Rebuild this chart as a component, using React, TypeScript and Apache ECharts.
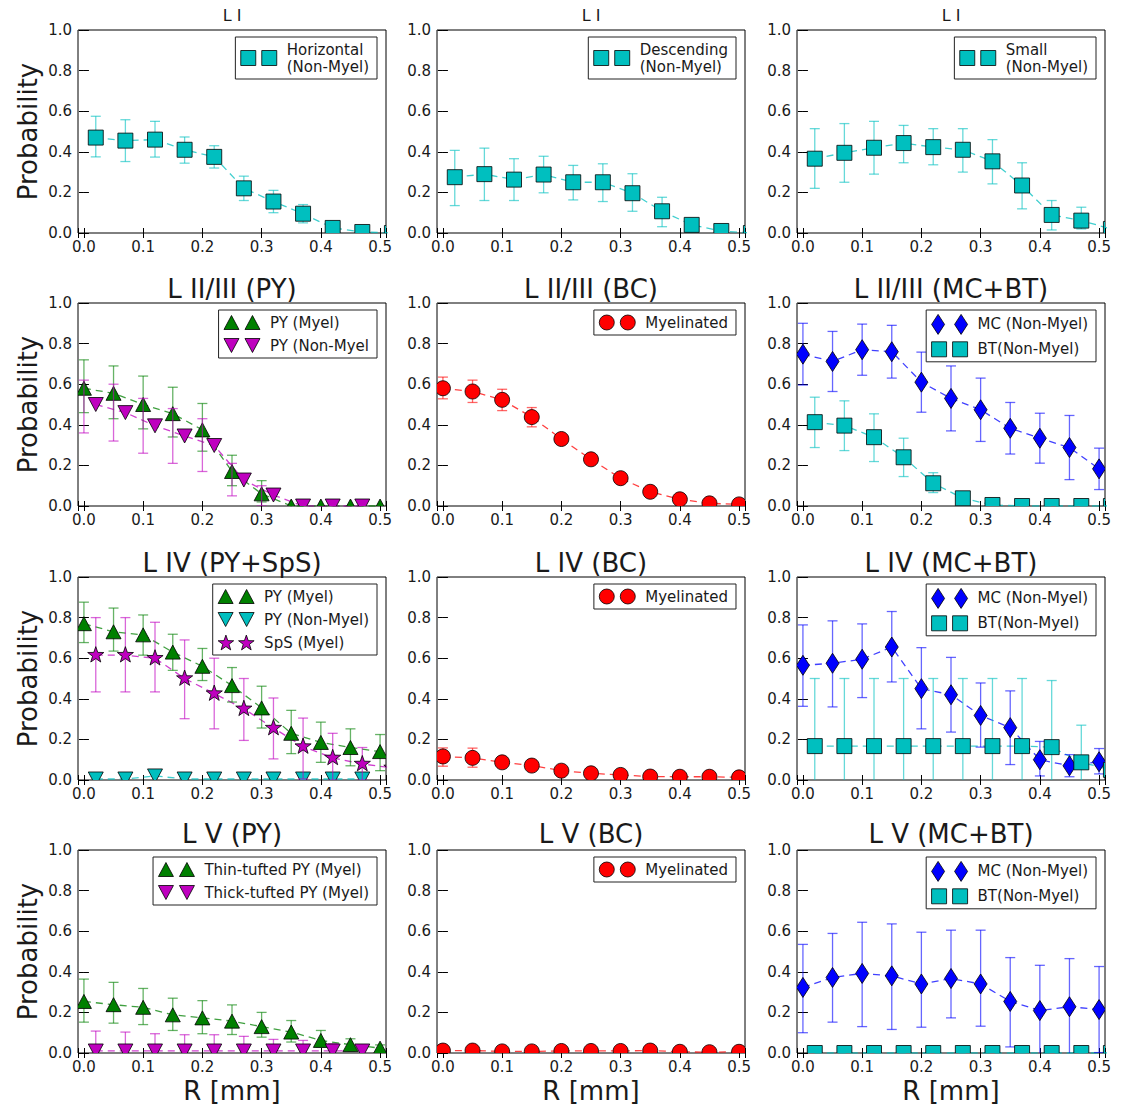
import React, { useEffect, useRef } from 'react';
import * as echarts from 'echarts';

// ---------------- data ----------------
const X_A = [0, 0.05, 0.1, 0.15, 0.2, 0.25, 0.3, 0.35, 0.4, 0.45, 0.5];
const X_B = [0.02, 0.07, 0.12, 0.17, 0.22, 0.27, 0.32, 0.37, 0.42, 0.47];
const X_B_EDGE = [0.02, 0.07, 0.12, 0.17, 0.22, 0.27, 0.32, 0.37, 0.42, 0.47, 0.52];
const X_TICKS = [0, 0.1, 0.2, 0.3, 0.4, 0.5];

const PANEL_TITLES = [
  'L I', 'L I', 'L I',
  'L II/III (PY)', 'L II/III (BC)', 'L II/III (MC+BT)',
  'L IV (PY+SpS)', 'L IV (BC)', 'L IV (MC+BT)',
  'L V (PY)', 'L V (BC)', 'L V (MC+BT)',
];

// Row 1 - L I
const LI_HOR_Y = [0.47, 0.455, 0.46, 0.41, 0.375, 0.22, 0.155, 0.095, 0.025, 0.005, 0.0];
const LI_HOR_LO = [0.375, 0.352, 0.374, 0.344, 0.32, 0.16, 0.1, 0.05, 0.0, 0.0, 0.0];
const LI_HOR_HI = [0.575, 0.558, 0.55, 0.473, 0.43, 0.28, 0.21, 0.14, 0.05, 0.01, 0.0];

const LI_DESC_Y = [0.275, 0.29, 0.263, 0.288, 0.25, 0.25, 0.196, 0.107, 0.04, 0.01, 0.0];
const LI_DESC_LO = [0.135, 0.16, 0.16, 0.198, 0.163, 0.155, 0.107, 0.031, 0.0, 0.0, 0.0];
const LI_DESC_HI = [0.407, 0.418, 0.366, 0.378, 0.333, 0.341, 0.292, 0.176, 0.07, 0.02, 0.0];

const LI_SMALL_Y = [0.366, 0.395, 0.42, 0.443, 0.423, 0.41, 0.353, 0.234, 0.089, 0.061, 0.02];
const LI_SMALL_LO = [0.22, 0.25, 0.29, 0.346, 0.336, 0.3, 0.242, 0.119, 0.015, 0.02, 0.0];
const LI_SMALL_HI = [0.514, 0.539, 0.55, 0.53, 0.514, 0.514, 0.46, 0.346, 0.16, 0.127, 0.04];

// Row 2 - L II/III
const L23_PY_MYEL_Y = [0.58, 0.555, 0.5, 0.455, 0.375, 0.17, 0.06, 0.0, 0.0, 0.0, 0.0];
const L23_PY_MYEL_LO = [0.46, 0.43, 0.38, 0.34, 0.27, 0.1, 0.02, 0, 0, 0, 0];
const L23_PY_MYEL_HI = [0.72, 0.69, 0.64, 0.585, 0.505, 0.25, 0.125, 0, 0, 0, 0];

const L23_PY_NON_Y = [0.5, 0.46, 0.395, 0.345, 0.298, 0.128, 0.054, 0.0, 0.0, 0.0];
const L23_PY_NON_ERR_X = [0, 0.05, 0.1, 0.15, 0.2, 0.25, 0.3, 0.35, 0.4, 0.45];
const L23_PY_NON_LO = [0.36, 0.32, 0.26, 0.21, 0.17, 0.05, 0.0, 0, 0, 0];
const L23_PY_NON_HI = [0.62, 0.6, 0.53, 0.48, 0.43, 0.21, 0.1, 0, 0, 0];

const L23_BC_Y = [0.58, 0.564, 0.523, 0.438, 0.33, 0.23, 0.137, 0.07, 0.033, 0.013, 0.008];
const L23_BC_LO = [0.528, 0.51, 0.47, 0.39, 0.31, 0.215, 0.125, 0.06, 0.025, 0.005, 0.0];
const L23_BC_HI = [0.635, 0.62, 0.575, 0.485, 0.35, 0.245, 0.15, 0.08, 0.04, 0.02, 0.015];

const L23_MC_Y = [0.748, 0.712, 0.77, 0.76, 0.61, 0.53, 0.474, 0.383, 0.334, 0.288, 0.183];
const L23_MC_LO = [0.596, 0.564, 0.644, 0.63, 0.462, 0.37, 0.318, 0.256, 0.211, 0.13, 0.081];
const L23_MC_HI = [0.9, 0.86, 0.896, 0.89, 0.758, 0.69, 0.63, 0.51, 0.457, 0.446, 0.285];

const L23_BT_Y = [0.413, 0.396, 0.339, 0.24, 0.112, 0.038, 0.005, 0.0, 0.0, 0.0, 0.0];
const L23_BT_LO = [0.288, 0.273, 0.219, 0.145, 0.066, 0.015, 0.0, 0, 0, 0, 0];
const L23_BT_HI = [0.536, 0.518, 0.454, 0.334, 0.164, 0.06, 0.01, 0, 0, 0, 0];

// Row 3 - L IV
const L4_PY_MYEL_Y = [0.77, 0.73, 0.715, 0.63, 0.56, 0.465, 0.355, 0.23, 0.185, 0.16, 0.14];
const L4_PY_MYEL_LO = [0.677, 0.635, 0.615, 0.54, 0.49, 0.384, 0.256, 0.13, 0.087, 0.07, 0.046];
const L4_PY_MYEL_HI = [0.876, 0.847, 0.813, 0.718, 0.648, 0.554, 0.462, 0.343, 0.285, 0.252, 0.224];

const L4_PY_NON_Y = [0.005, 0.005, 0.02, 0.005, 0.005, 0.005, 0.005, 0.005, 0.005, 0.005];

const L4_SPS_Y = [0.615, 0.615, 0.6, 0.5, 0.426, 0.351, 0.256, 0.165, 0.109, 0.079, 0.06];
const L4_SPS_LO = [0.434, 0.434, 0.434, 0.302, 0.252, 0.195, 0.104, 0.005, 0.0, 0.0, 0.0];
const L4_SPS_HI = [0.8, 0.8, 0.777, 0.69, 0.6, 0.5, 0.404, 0.305, 0.23, 0.16, 0.1];

const L4_BC_Y = [0.116, 0.109, 0.087, 0.071, 0.046, 0.033, 0.025, 0.017, 0.016, 0.016, 0.013];
const L4_BC_LO = [0.068, 0.063, 0.065, 0.055, 0.035, 0.025, 0.018, 0.01, 0.01, 0.01, 0.008];
const L4_BC_HI = [0.158, 0.157, 0.11, 0.088, 0.058, 0.042, 0.032, 0.024, 0.022, 0.022, 0.018];

const L4_MC_Y = [0.565, 0.575, 0.595, 0.655, 0.45, 0.42, 0.318, 0.258, 0.1, 0.07, 0.09];
const L4_MC_LO = [0.363, 0.36, 0.406, 0.483, 0.252, 0.236, 0.162, 0.076, 0.02, 0.016, 0.03];
const L4_MC_HI = [0.764, 0.784, 0.769, 0.83, 0.652, 0.604, 0.478, 0.439, 0.19, 0.125, 0.155];

const L4_BT_Y = [0.167, 0.167, 0.167, 0.167, 0.167, 0.167, 0.167, 0.167, 0.162, 0.087, 0.05];
const L4_BT_LO = [-0.166, -0.166, -0.166, -0.166, -0.166, -0.166, -0.166, -0.166, -0.166, -0.096, 0.0];
const L4_BT_HI = [0.5, 0.5, 0.5, 0.5, 0.5, 0.5, 0.5, 0.5, 0.49, 0.27, 0.1];

// Row 4 - L V
const L5_THIN_Y = [0.254, 0.238, 0.225, 0.188, 0.173, 0.157, 0.13, 0.103, 0.062, 0.041, 0.024];
const L5_THIN_LO = [0.152, 0.147, 0.14, 0.111, 0.095, 0.091, 0.078, 0.054, 0.03, 0.016, 0.005];
const L5_THIN_HI = [0.364, 0.348, 0.318, 0.27, 0.258, 0.237, 0.2, 0.16, 0.111, 0.07, 0.04];

const L5_THICK_Y = [0.01, 0.01, 0.01, 0.01, 0.01, 0.01, 0.01, 0.01, 0.01, 0.01];
const L5_THICK_LO = [-0.088, -0.083, -0.075, -0.07, -0.07, -0.062, -0.047, -0.042, -0.026, -0.014];
const L5_THICK_HI = [0.108, 0.103, 0.095, 0.09, 0.09, 0.082, 0.067, 0.062, 0.046, 0.034];

const L5_BC_Y = [0.012, 0.012, 0.008, 0.008, 0.01, 0.01, 0.01, 0.012, 0.006, 0.004, 0.006];
const L5_BC_LO = [0.006, 0.006, 0.002, 0.002, 0.004, 0.004, 0.004, 0.006, 0.0, 0.0, 0.0];
const L5_BC_HI = [0.018, 0.018, 0.014, 0.014, 0.016, 0.016, 0.016, 0.018, 0.012, 0.01, 0.012];

const L5_MC_Y = [0.323, 0.372, 0.392, 0.38, 0.34, 0.367, 0.34, 0.254, 0.209, 0.228, 0.214];
const L5_MC_LO = [0.1, 0.152, 0.13, 0.116, 0.127, 0.173, 0.132, 0.03, -0.014, -0.009, 0.002];
const L5_MC_HI = [0.535, 0.589, 0.644, 0.636, 0.595, 0.605, 0.605, 0.47, 0.432, 0.465, 0.426];

const L5_BT_Y = [0, 0, 0, 0, 0, 0, 0, 0, 0, 0, 0];

// ---------------- styles ----------------
const CYAN = '#00bfbf';
const GREEN = '#008000';
const MAGENTA = '#bf00bf';
const RED = '#ff0000';
const BLUE = '#0000ff';
const FONT = "'DejaVu Sans', 'Liberation Sans', sans-serif";
const TEXT = '#1a1a1a';

const W = 1122;
const H = 1107;
const COL_LEFT = [78, 437, 797];
const ROW_TOP = [30, 303, 577, 850];
const PW = 308;
const PH = 203;
const TITLE_TOP = [7, 276, 550, 821];
const TITLE_SIZE = [16, 26, 26, 26];

interface SeriesDef {
  name: string;
  marker: string;
  color: string;
  x: number[];
  y: number[];
  lo: number[];
  hi: number[];
  ex?: number[];
}

const PANELS: SeriesDef[][] = [
  [{ name: 'Horizontal\n(Non-Myel)', marker: 'square', color: CYAN, x: X_B_EDGE, y: LI_HOR_Y, lo: LI_HOR_LO, hi: LI_HOR_HI }],
  [{ name: 'Descending\n(Non-Myel)', marker: 'square', color: CYAN, x: X_B_EDGE, y: LI_DESC_Y, lo: LI_DESC_LO, hi: LI_DESC_HI }],
  [{ name: 'Small\n(Non-Myel)', marker: 'square', color: CYAN, x: X_B_EDGE, y: LI_SMALL_Y, lo: LI_SMALL_LO, hi: LI_SMALL_HI }],
  [
    { name: 'PY (Myel)', marker: 'up', color: GREEN, x: X_A, y: L23_PY_MYEL_Y, lo: L23_PY_MYEL_LO, hi: L23_PY_MYEL_HI },
    { name: 'PY (Non-Myel', marker: 'down', color: MAGENTA, x: X_B, y: L23_PY_NON_Y, lo: L23_PY_NON_LO, hi: L23_PY_NON_HI, ex: L23_PY_NON_ERR_X },
  ],
  [{ name: 'Myelinated', marker: 'circle', color: RED, x: X_A, y: L23_BC_Y, lo: L23_BC_LO, hi: L23_BC_HI }],
  [
    { name: 'MC (Non-Myel)', marker: 'diamond', color: BLUE, x: X_A, y: L23_MC_Y, lo: L23_MC_LO, hi: L23_MC_HI },
    { name: 'BT(Non-Myel)', marker: 'square', color: CYAN, x: X_B_EDGE, y: L23_BT_Y, lo: L23_BT_LO, hi: L23_BT_HI },
  ],
  [
    { name: 'PY (Myel)', marker: 'up', color: GREEN, x: X_A, y: L4_PY_MYEL_Y, lo: L4_PY_MYEL_LO, hi: L4_PY_MYEL_HI },
    { name: 'PY (Non-Myel)', marker: 'down', color: CYAN, x: X_B, y: L4_PY_NON_Y, lo: L4_PY_NON_Y, hi: L4_PY_NON_Y },
    { name: 'SpS (Myel)', marker: 'star', color: MAGENTA, x: X_B_EDGE, y: L4_SPS_Y, lo: L4_SPS_LO, hi: L4_SPS_HI },
  ],
  [{ name: 'Myelinated', marker: 'circle', color: RED, x: X_A, y: L4_BC_Y, lo: L4_BC_LO, hi: L4_BC_HI }],
  [
    { name: 'MC (Non-Myel)', marker: 'diamond', color: BLUE, x: X_A, y: L4_MC_Y, lo: L4_MC_LO, hi: L4_MC_HI },
    { name: 'BT(Non-Myel)', marker: 'square', color: CYAN, x: X_B_EDGE, y: L4_BT_Y, lo: L4_BT_LO, hi: L4_BT_HI },
  ],
  [
    { name: 'Thin-tufted PY (Myel)', marker: 'up', color: GREEN, x: X_A, y: L5_THIN_Y, lo: L5_THIN_LO, hi: L5_THIN_HI },
    { name: 'Thick-tufted PY (Myel)', marker: 'down', color: MAGENTA, x: X_B, y: L5_THICK_Y, lo: L5_THICK_LO, hi: L5_THICK_HI },
  ],
  [{ name: 'Myelinated', marker: 'circle', color: RED, x: X_A, y: L5_BC_Y, lo: L5_BC_LO, hi: L5_BC_HI }],
  [
    { name: 'MC (Non-Myel)', marker: 'diamond', color: BLUE, x: X_A, y: L5_MC_Y, lo: L5_MC_LO, hi: L5_MC_HI },
    { name: 'BT(Non-Myel)', marker: 'square', color: CYAN, x: X_B_EDGE, y: L5_BT_Y, lo: L5_BT_Y, hi: L5_BT_Y },
  ],
];

// ---------------- marker helpers ----------------
function starPoints(cx: number, cy: number, R: number, r: number): number[][] {
  const pts: number[][] = [];
  for (let k = 0; k < 10; k++) {
    const ang = -Math.PI / 2 + (k * Math.PI) / 5;
    const rad = k % 2 === 0 ? R : r;
    pts.push([cx + rad * Math.cos(ang), cy + rad * Math.sin(ang)]);
  }
  return pts;
}
function polyPath(pts: number[][]): string {
  return 'M' + pts.map((p) => p[0].toFixed(2) + ',' + p[1].toFixed(2)).join('L') + 'Z';
}

const ICONS: Record<string, string> = {
  square: 'path://M0,0L15,0L15,15L0,15Z M21,0L36,0L36,15L21,15Z',
  circle: 'path://M0,7.5A7.5,7.5,0,1,1,15,7.5A7.5,7.5,0,1,1,0,7.5Z M21,7.5A7.5,7.5,0,1,1,36,7.5A7.5,7.5,0,1,1,21,7.5Z',
  up: 'path://M7.5,0L15,14L0,14Z M28.5,0L36,14L21,14Z',
  down: 'path://M0,0L15,0L7.5,14Z M21,0L36,0L28.5,14Z',
  diamond: 'path://M6.5,0L13,10L6.5,20L0,10Z M29.5,0L36,10L29.5,20L23,10Z',
  star: 'path://' + polyPath(starPoints(8, 8, 8, 3.2)) + ' ' + polyPath(starPoints(28, 8, 8, 3.2)),
};

function markerEl(m: string, cx: number, cy: number, color: string): any {
  const style = { fill: color, stroke: '#000', lineWidth: 0.8 };
  switch (m) {
    case 'square':
      return { type: 'rect', shape: { x: cx - 7.5, y: cy - 7.5, width: 15, height: 15 }, style };
    case 'circle':
      return { type: 'circle', shape: { cx, cy, r: 7.5 }, style };
    case 'up':
      return { type: 'polygon', shape: { points: [[cx, cy - 7], [cx + 7.5, cy + 7], [cx - 7.5, cy + 7]] }, style };
    case 'down':
      return { type: 'polygon', shape: { points: [[cx - 7.5, cy - 7], [cx + 7.5, cy - 7], [cx, cy + 7]] }, style };
    case 'diamond':
      return { type: 'polygon', shape: { points: [[cx, cy - 10], [cx + 6.5, cy], [cx, cy + 10], [cx - 6.5, cy]] }, style };
    case 'star':
    default:
      return { type: 'polygon', shape: { points: starPoints(cx, cy, 8.5, 3.4) }, style };
  }
}

function makeRender(marker: string, color: string) {
  return (params: any, api: any) => {
    const x = api.value(0);
    const y = api.value(1);
    const lo = api.value(2);
    const hi = api.value(3);
    const ex = api.value(4);
    const c = api.coord([x, y]);
    const a = api.coord([ex, lo]);
    const b = api.coord([ex, hi]);
    const bar = { stroke: color, lineWidth: 1.3, opacity: 0.6 };
    const CAP = 5;
    const children: any[] = [];
    if (Math.abs(a[1] - b[1]) > 1) {
      children.push({ type: 'line', shape: { x1: a[0], y1: a[1], x2: b[0], y2: b[1] }, style: bar });
      children.push({ type: 'line', shape: { x1: a[0] - CAP, y1: a[1], x2: a[0] + CAP, y2: a[1] }, style: bar });
      children.push({ type: 'line', shape: { x1: b[0] - CAP, y1: b[1], x2: b[0] + CAP, y2: b[1] }, style: bar });
    }
    children.push(markerEl(marker, c[0], c[1], color));
    return { type: 'group', children };
  };
}

function xLabel(v: number): string {
  return X_TICKS.some((t) => Math.abs(t - v) < 1e-6) ? v.toFixed(1) : '';
}

function buildOption(): any {
  const grid: any[] = [];
  const xBottom: any[] = [];
  const xTop: any[] = [];
  const yLeft: any[] = [];
  const yRight: any[] = [];
  const series: any[] = [];
  const legend: any[] = [];
  const title: any[] = [];

  const tick = { show: true, inside: true, length: 5, lineStyle: { color: '#000', width: 1 } };
  const labelStyle = { fontSize: 15, fontFamily: FONT, color: TEXT };

  PANELS.forEach((panel, p) => {
    const r = Math.floor(p / 3);
    const c = p % 3;
    const left = COL_LEFT[c];
    const top = ROW_TOP[r];
    grid.push({
      left, top, width: PW, height: PH, show: true, borderColor: '#000', borderWidth: 1,
      backgroundColor: 'transparent', containLabel: false, outerBoundsMode: 'none',
    });
    xBottom.push({
      type: 'value', gridIndex: p, position: 'bottom', min: -0.01, max: 0.51, splitNumber: 5,
      axisLine: { show: false }, axisTick: tick, splitLine: { show: false },
      axisLabel: { ...labelStyle, margin: 6, formatter: xLabel },
      name: r === 3 ? 'R [mm]' : '', nameLocation: 'middle', nameGap: 25,
      nameTextStyle: { fontSize: 26, fontFamily: FONT, color: TEXT },
    });
    xTop.push({
      type: 'value', gridIndex: p, position: 'top', min: -0.01, max: 0.51, splitNumber: 5,
      axisLine: { show: false }, axisTick: tick, splitLine: { show: false }, axisLabel: { show: false },
    });
    yLeft.push({
      type: 'value', gridIndex: p, position: 'left', min: 0, max: 1, interval: 0.2,
      axisLine: { show: false }, axisTick: tick, splitLine: { show: false },
      axisLabel: { ...labelStyle, margin: 6, formatter: (v: number) => v.toFixed(1) },
      name: c === 0 ? 'Probability' : '', nameLocation: 'middle', nameGap: 37,
      nameTextStyle: { fontSize: 26, fontFamily: FONT, color: TEXT },
    });
    yRight.push({
      type: 'value', gridIndex: p, position: 'right', min: 0, max: 1, interval: 0.2,
      axisLine: { show: false }, axisTick: tick, splitLine: { show: false }, axisLabel: { show: false },
    });
    title.push({
      text: PANEL_TITLES[p], left: left + PW / 2, top: TITLE_TOP[r], textAlign: 'center', padding: 0,
      textStyle: { fontSize: TITLE_SIZE[r], fontWeight: 'normal', fontFamily: FONT, color: TEXT },
    });
    const hasDiamond = panel.some((s) => s.marker === 'diamond');
    legend.push({
      orient: 'vertical', right: W - (left + PW - 9), top: top + 7,
      padding: [4, 8, 4, 5], itemGap: 6, itemWidth: 36, itemHeight: hasDiamond ? 20 : 15,
      backgroundColor: '#fff', borderColor: '#222', borderWidth: 1, borderRadius: 0,
      selectedMode: false,
      textStyle: { fontSize: 15, fontFamily: FONT, color: TEXT, lineHeight: 17, padding: [0, 0, 0, 5] },
      data: panel.map((s) => ({
        name: s.name, icon: ICONS[s.marker],
        itemStyle: { color: s.color, borderColor: '#000', borderWidth: 0.8 },
      })),
    });
    panel.forEach((s) => {
      series.push({
        type: 'custom', name: s.name, xAxisIndex: p, yAxisIndex: p, clip: true, z: 3, silent: true,
        dimensions: ['x', 'y', 'lo', 'hi', 'ex'],
        encode: { x: 0, y: 1 },
        data: s.x.map((xv, i) => [xv, s.y[i], s.lo[i], s.hi[i], s.ex ? s.ex[i] : xv]),
        renderItem: makeRender(s.marker, s.color),
      });
      series.push({
        type: 'line', name: s.name, xAxisIndex: p, yAxisIndex: p, z: 2, silent: true, clip: true,
        symbol: 'none', showSymbol: false,
        lineStyle: { color: s.color, width: 1.3, type: [7, 5], opacity: 0.75 },
        data: s.x.map((xv, i) => [xv, s.y[i]]),
      });
    });
  });

  return {
    animation: false,
    backgroundColor: '#fff',
    title,
    legend,
    grid,
    xAxis: [...xBottom, ...xTop],
    yAxis: [...yLeft, ...yRight],
    series,
  };
}

export default function App() {
  const ref = useRef<HTMLDivElement>(null);
  useEffect(() => {
    document.body.style.margin = '0';
    const chart = echarts.init(ref.current as HTMLDivElement, null, { renderer: 'svg', width: W, height: H });
    chart.setOption(buildOption());
    return () => chart.dispose();
  }, []);
  return <div ref={ref} style={{ width: W, height: H }} />;
}
